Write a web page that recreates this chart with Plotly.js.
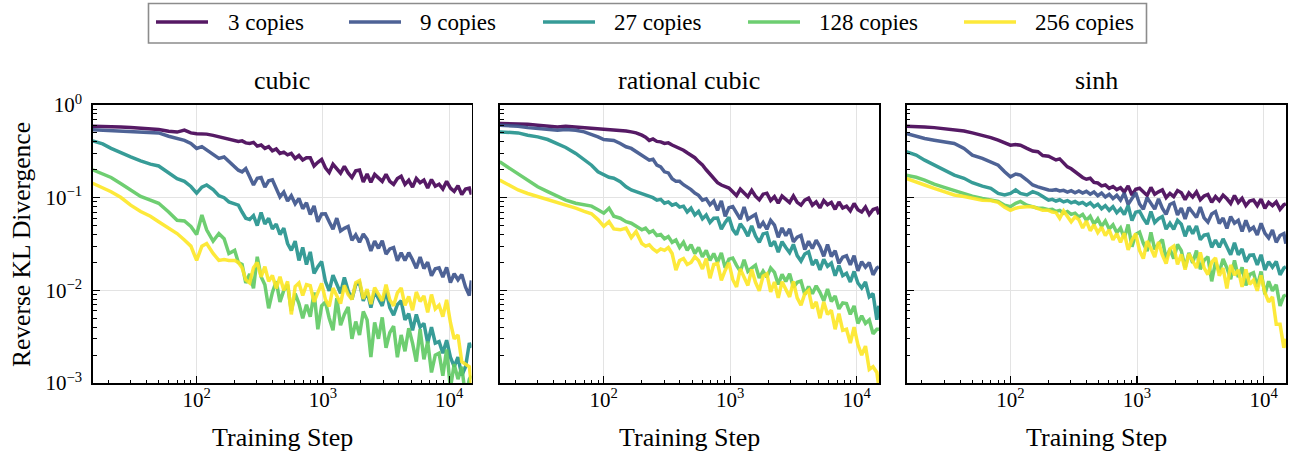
<!DOCTYPE html>
<html>
<head>
<meta charset="utf-8">
<script src="https://cdn.plot.ly/plotly-3.0.1.min.js"></script>
<style>html,body{margin:0;padding:0;background:#fff;}#chart{width:1289px;height:451px;}</style>
</head>
<body>
<div id="chart"></div>
<script>
// Training steps (shared by every series)
const steps = [15,18,21,25,30,36,43,50,60,70,80,90,100,110,120,135,150,165,180,
200,214,229,245,263,282,302,324,347,372,
398,427,457,490,525,562,603,646,692,741,
794,851,912,977,1047,1122,1202,1288,1380,1479,
1585,1698,1820,1950,2089,2239,2399,2570,2754,2951,
3162,3388,3631,3890,4169,4467,4786,5129,5495,5888,
6310,6761,7244,7762,8318,8913,9550,10233,10965,11749,
12589,13490,14454,15000];

const seriesNames = ['3 copies','9 copies','27 copies','128 copies','256 copies'];
const seriesColors = ['#440154','#3b528b','#21918c','#5ec962','#fde725'];
const panelTitles = ['cubic','rational cubic','sinh'];
const yTickVals = [0.001, 0.01, 0.1, 1];
const yTickText = ['10<sup>\u22123</sup>','10<sup>\u22122</sup>','10<sup>\u22121</sup>','10<sup>0</sup>'];
const xTickVals = [100, 1000, 10000];
const xTickText = ['10<sup>2</sup>','10<sup>3</sup>','10<sup>4</sup>'];

// ---- cubic ----
const cubic_3 = [0.59,0.59,0.59,0.58,0.57,0.56,0.55,0.545,0.52,0.51,0.535,0.50,0.49,0.49,0.485,0.47,0.455,0.44,0.435,
0.42,0.405,0.41,0.39,0.385,0.395,0.36,0.37,0.34,0.355,
0.32,0.335,0.3,0.31,0.29,0.3,0.265,0.285,0.255,0.27,
0.27,0.22,0.241,0.258,0.21,0.187,0.229,0.208,0.184,0.218,
0.185,0.165,0.195,0.199,0.148,0.18,0.147,0.178,0.162,0.15,
0.179,0.15,0.139,0.161,0.17,0.139,0.154,0.13,0.161,0.145,
0.155,0.127,0.157,0.133,0.14,0.124,0.15,0.127,0.117,0.135,
0.108,0.124,0.127,0.108];
const cubic_9 = [0.54,0.535,0.53,0.525,0.52,0.515,0.505,0.50,0.46,0.435,0.415,0.385,0.34,0.355,0.325,0.29,0.265,0.275,0.245,
0.216,0.198,0.19,0.206,0.168,0.137,0.162,0.165,0.13,0.152,
0.156,0.122,0.102,0.115,0.092,0.105,0.086,0.098,0.076,0.088,
0.0657,0.0814,0.0549,0.0666,0.067,0.055,0.0457,0.0601,0.0437,0.0467,
0.0489,0.0347,0.0397,0.0331,0.0406,0.0355,0.0266,0.034,0.0284,0.0342,
0.0246,0.028,0.029,0.0208,0.0254,0.021,0.0255,0.0214,0.0173,0.0228,
0.0172,0.0201,0.0144,0.0171,0.0175,0.0139,0.0177,0.0121,0.0151,0.013,
0.0148,0.0108,0.0088,0.0128];
const cubic_27 = [0.41,0.38,0.34,0.305,0.275,0.25,0.23,0.22,0.185,0.16,0.15,0.132,0.112,0.13,0.137,0.122,0.105,0.1,0.09,
0.085,0.083,0.07,0.06,0.058,0.064,0.05,0.069,0.052,0.06,
0.046,0.052,0.04,0.047,0.032,0.027,0.034,0.021,0.029,0.019,
0.026,0.0152,0.018,0.0204,0.0125,0.0099,0.0146,0.0118,0.0093,0.0138,
0.0099,0.008,0.0115,0.0121,0.0077,0.0098,0.0065,0.0098,0.008,0.0068,
0.0099,0.0065,0.0054,0.007,0.0077,0.0048,0.0056,0.0037,0.0055,0.004,
0.0044,0.0027,0.004,0.0027,0.0028,0.0021,0.0029,0.0019,0.0015,0.0019,
0.0012,0.0015,0.0027,0.0024];
const cubic_128 = [0.2,0.182,0.165,0.142,0.12,0.103,0.094,0.087,0.07,0.057,0.056,0.049,0.04,0.065,0.045,0.034,0.041,0.036,0.025,
0.027,0.02,0.019,0.012,0.015,0.0105,0.023,0.014,0.0115,0.0064,
0.0095,0.0125,0.0075,0.01,0.0115,0.006,0.0092,0.0072,0.005,0.007,
0.0052,0.0095,0.0038,0.0068,0.0075,0.005,0.0037,0.0082,0.0042,0.0055,
0.0066,0.003,0.0046,0.0033,0.0059,0.0048,0.0019,0.0045,0.003,0.0051,
0.0024,0.0035,0.0041,0.0019,0.0033,0.0022,0.0039,0.0027,0.0017,0.0038,
0.0018,0.0028,0.0013,0.002,0.0021,0.0012,0.0023,0.00088,0.0016,0.0011,
0.0015,0.0007,0.0011,0.0012];
const cubic_256 = [0.143,0.129,0.116,0.101,0.083,0.071,0.063,0.055,0.047,0.041,0.035,0.03,0.021,0.03,0.032,0.025,0.021,0.0215,0.021,
0.021,0.02,0.0175,0.013,0.012,0.0175,0.02,0.014,0.018,0.0125,
0.0145,0.0105,0.014,0.01,0.0125,0.0055,0.011,0.012,0.0088,0.0115,
0.0112,0.0075,0.0096,0.0119,0.008,0.0067,0.0106,0.0088,0.0072,0.0113,
0.009,0.008,0.0121,0.0127,0.0081,0.0103,0.0071,0.0107,0.0089,0.0077,
0.0115,0.0079,0.0068,0.0094,0.0106,0.0069,0.0086,0.0061,0.0096,0.0076,
0.0087,0.0058,0.009,0.0063,0.0069,0.0052,0.0079,0.0045,0.003,0.0033,
0.0017,0.0016,0.0015,0.00096];

// ---- rational cubic ----
const ratcubic_3 = [0.63,0.63,0.63,0.62,0.605,0.59,0.58,0.59,0.58,0.57,0.56,0.552,0.547,0.552,0.543,0.534,0.525,0.513,0.50,
0.472,0.45,0.415,0.43,0.405,0.40,0.385,0.39,0.37,0.355,
0.34,0.325,0.305,0.29,0.27,0.245,0.225,0.2,0.178,0.16,
0.145,0.137,0.131,0.127,0.1156,0.105,0.1236,0.1133,0.1026,0.1198,
0.1036,0.0947,0.1091,0.1118,0.0932,0.1025,0.0873,0.104,0.095,0.0887,
0.1043,0.0889,0.083,0.0942,0.0987,0.083,0.09,0.0775,0.0932,0.0841,
0.089,0.0749,0.0899,0.0774,0.081,0.072,0.0864,0.0743,0.07,0.0793,
0.0658,0.0745,0.077,0.0661];
const ratcubic_9 = [0.605,0.6,0.59,0.57,0.56,0.545,0.535,0.543,0.534,0.513,0.484,0.453,0.424,0.417,0.415,0.384,0.354,0.34,0.313,
0.288,0.27,0.254,0.26,0.224,0.215,0.19,0.185,0.16,0.15,
0.15,0.138,0.13,0.122,0.112,0.106,0.094,0.097,0.084,0.092,
0.073,0.092,0.063,0.078,0.08,0.0675,0.0587,0.0793,0.0585,0.0623,
0.066,0.0474,0.054,0.0456,0.0568,0.0506,0.0374,0.0471,0.0388,0.046,
0.0334,0.0374,0.0391,0.0275,0.0338,0.0283,0.0348,0.0296,0.0233,0.0313,
0.0232,0.0268,0.0195,0.0228,0.0236,0.0188,0.0236,0.0162,0.0204,0.0178,
0.0199,0.0147,0.0174,0.0179];
const ratcubic_27 = [0.513,0.508,0.5,0.472,0.453,0.424,0.384,0.348,0.3,0.254,0.224,0.19,0.175,0.166,0.162,0.149,0.131,0.121,0.116,
0.111,0.108,0.103,0.1,0.094,0.096,0.087,0.09,0.083,0.086,
0.079,0.081,0.07,0.077,0.065,0.071,0.059,0.065,0.054,0.06,
0.0603,0.0457,0.054,0.0613,0.0455,0.0399,0.0523,0.0459,0.0385,0.0496,
0.0386,0.033,0.0406,0.0417,0.0299,0.0338,0.0258,0.0335,0.029,0.0255,
0.0313,0.0237,0.0207,0.0247,0.026,0.0188,0.0213,0.0166,0.0216,0.0182,
0.0197,0.0144,0.0185,0.0144,0.0153,0.0123,0.016,0.012,0.0106,0.0123,
0.0085,0.0092,0.0048,0.0068];
const ratcubic_128 = [0.244,0.206,0.183,0.155,0.131,0.116,0.103,0.094,0.087,0.083,0.081,0.074,0.068,0.077,0.063,0.06,0.055,0.053,0.049,
0.045,0.047,0.042,0.044,0.039,0.04,0.036,0.038,0.033,0.035,
0.029,0.033,0.027,0.031,0.025,0.029,0.023,0.027,0.021,0.025,
0.0201,0.0254,0.0175,0.0217,0.0223,0.0186,0.016,0.0214,0.016,0.0174,
0.0187,0.0136,0.0161,0.0139,0.0174,0.0156,0.0116,0.0149,0.0125,0.0151,
0.0108,0.0122,0.0126,0.009,0.011,0.0092,0.0112,0.0095,0.0077,0.0103,
0.0076,0.0087,0.0063,0.0073,0.0072,0.0055,0.0068,0.0044,0.0053,0.0044,
0.0048,0.0034,0.0038,0.0038];
const ratcubic_256 = [0.155,0.137,0.121,0.111,0.103,0.094,0.087,0.083,0.077,0.071,0.067,0.058,0.049,0.055,0.046,0.045,0.047,0.037,0.043,
0.032,0.03,0.031,0.028,0.026,0.028,0.027,0.029,0.025,0.0165,
0.021,0.022,0.019,0.02,0.023,0.021,0.017,0.022,0.0135,0.019,
0.0195,0.0128,0.0164,0.0198,0.0131,0.0109,0.017,0.0141,0.0113,0.0168,
0.0122,0.0099,0.0142,0.0151,0.0096,0.0123,0.0083,0.0124,0.0101,0.0085,
0.0125,0.0083,0.0069,0.0092,0.01,0.0064,0.0075,0.005,0.0075,0.0055,
0.0061,0.0038,0.0056,0.0037,0.0038,0.0027,0.004,0.0026,0.002,0.0025,
0.0014,0.0015,0.0013,0.0009];

// ---- sinh ----
const sinh_3 = [0.59,0.59,0.58,0.57,0.557,0.543,0.525,0.50,0.472,0.445,0.417,0.39,0.368,0.374,0.368,0.34,0.318,0.313,0.285,
0.28,0.27,0.255,0.262,0.235,0.215,0.205,0.19,0.18,0.165,
0.158,0.162,0.146,0.144,0.134,0.137,0.126,0.132,0.122,0.128,
0.1152,0.1342,0.1069,0.1232,0.1265,0.1143,0.1058,0.129,0.1089,0.1156,
0.1214,0.1001,0.1113,0.1026,0.1195,0.1131,0.0953,0.1123,0.1014,0.1153,
0.0951,0.1043,0.1083,0.0891,0.1025,0.0925,0.1063,0.0972,0.0866,0.1055,
0.0888,0.0986,0.0821,0.0921,0.0943,0.0821,0.0965,0.0766,0.089,0.0821,
0.09,0.0748,0.0838,0.0858];
const sinh_9 = [0.492,0.46,0.435,0.417,0.4,0.384,0.34,0.288,0.265,0.244,0.224,0.19,0.168,0.18,0.175,0.155,0.137,0.131,0.126,
0.121,0.12,0.122,0.118,0.12,0.115,0.119,0.113,0.118,0.112,
0.117,0.109,0.115,0.105,0.112,0.102,0.109,0.098,0.106,0.094,
0.1117,0.0846,0.0996,0.113,0.0855,0.0749,0.1001,0.0876,0.0752,0.0968,
0.0771,0.0661,0.0844,0.0881,0.065,0.0772,0.0591,0.0782,0.068,0.0611,
0.0793,0.0605,0.0544,0.0667,0.0708,0.0528,0.0602,0.0466,0.0626,0.053,
0.057,0.0432,0.0568,0.0446,0.0479,0.0396,0.0529,0.0415,0.0367,0.0447,
0.033,0.0391,0.041,0.0319];
const sinh_27 = [0.313,0.288,0.254,0.224,0.198,0.175,0.162,0.145,0.133,0.126,0.111,0.107,0.111,0.121,0.111,0.107,0.116,0.111,0.103,
0.094,0.096,0.092,0.095,0.09,0.093,0.088,0.091,0.086,0.089,
0.083,0.088,0.08,0.085,0.076,0.082,0.073,0.08,0.069,0.076,
0.0657,0.0826,0.0566,0.0698,0.0715,0.0598,0.0518,0.0709,0.0539,0.0592,
0.0626,0.0457,0.053,0.0456,0.0568,0.0516,0.0383,0.0493,0.0407,0.0496,
0.0352,0.0394,0.0402,0.0291,0.0349,0.0292,0.0359,0.0296,0.0242,0.0325,
0.0242,0.0279,0.0203,0.0239,0.0241,0.0188,0.0242,0.0166,0.0204,0.0178,
0.0205,0.0147,0.0174,0.0179];
const sinh_128 = [0.175,0.166,0.155,0.14,0.129,0.119,0.11,0.104,0.098,0.094,0.091,0.083,0.08,0.087,0.091,0.083,0.08,0.077,0.077,
0.074,0.075,0.071,0.073,0.068,0.071,0.066,0.068,0.062,0.066,
0.057,0.063,0.052,0.059,0.049,0.056,0.046,0.051,0.042,0.047,
0.0366,0.0513,0.0296,0.0402,0.0425,0.0322,0.0265,0.0422,0.0277,0.0317,
0.0352,0.0218,0.0278,0.022,0.0312,0.0268,0.0175,0.0253,0.0198,0.0269,
0.0169,0.0211,0.023,0.0125,0.0201,0.0157,0.0218,0.0175,0.0132,0.0211,
0.0139,0.0177,0.0113,0.0148,0.0155,0.011,0.016,0.0091,0.0125,0.0099,
0.0115,0.0068,0.0087,0.0089];
const sinh_256 = [0.161,0.149,0.137,0.126,0.116,0.107,0.103,0.098,0.094,0.093,0.089,0.079,0.073,0.077,0.079,0.08,0.08,0.076,0.073,
0.073,0.07,0.069,0.06,0.072,0.062,0.055,0.062,0.058,0.047,
0.056,0.044,0.051,0.042,0.048,0.039,0.045,0.035,0.041,0.033,
0.0413,0.0273,0.0349,0.0409,0.0269,0.022,0.034,0.0283,0.0229,0.0333,
0.0241,0.0195,0.0281,0.0299,0.019,0.0244,0.0167,0.0248,0.0205,0.0174,
0.0257,0.0175,0.0148,0.0201,0.0224,0.0144,0.0174,0.0105,0.0188,0.0146,
0.0166,0.0109,0.0168,0.0116,0.0129,0.0099,0.0145,0.0095,0.0075,0.0085,
0.0043,0.0043,0.0024,0.003];

const panelData = [
  [cubic_3, cubic_9, cubic_27, cubic_128, cubic_256],
  [ratcubic_3, ratcubic_9, ratcubic_27, ratcubic_128, ratcubic_256],
  [sinh_3, sinh_9, sinh_27, sinh_128, sinh_256]
];

const W = 1289, H = 451;
const xDomains = [[93/W, 471.5/W], [500/W, 879/W], [906.5/W, 1286/W]];
const yDomain = [(H-383)/H, (H-105)/H];
const serif = '"Liberation Serif", "Times New Roman", serif';

// legend layout (pixel positions of the hand-drawn legend box)
const legendBox = {x0: 148.5, x1: 1146.5, y0: 3.5, y1: 43};
const legendLineX = [156, 349, 543, 748, 964];
const legendTextX = [226, 418, 612, 817, 1033];
const legendLineLen = 52;
const legendMidY = 22;

// minor tick positions 2..9 in each decade (axis decoration only)
function minorTicks(d0, d1) {
  const v = [];
  for (let d = d0; d <= d1; d++) for (let m = 2; m <= 9; m++) v.push(m * Math.pow(10, d));
  return v;
}
const xMinor = minorTicks(1, 4);
const yMinor = minorTicks(-3, -1);

const traces = [];
panelData.forEach((series, p) => {
  series.forEach((vals, s) => {
    traces.push({
      type: 'scatter', mode: 'lines',
      x: steps, y: vals,
      name: seriesNames[s],
      showlegend: false,
      xaxis: p === 0 ? 'x' : 'x' + (p + 1),
      yaxis: p === 0 ? 'y' : 'y' + (p + 1),
      line: {color: seriesColors[s], width: 3.5},
      opacity: 0.9,
      hoverinfo: 'skip'
    });
  });
});

function xAxis(p) {
  return {
    type: 'log', domain: xDomains[p], range: [1.179, 4.177],
    anchor: p === 0 ? 'y' : 'y' + (p + 1),
    tickmode: 'array', tickvals: xTickVals, ticktext: xTickText,
    ticks: 'inside', ticklen: 7, tickwidth: 1.3, tickcolor: '#000',
    minor: {tickmode: 'array', tickvals: xMinor, ticks: 'inside', ticklen: 3.5, tickwidth: 1, tickcolor: '#000', showgrid: false},
    showline: true, mirror: true, linecolor: '#000', linewidth: 1.6,
    showgrid: true, gridcolor: '#e3e3e3', gridwidth: 1,
    tickfont: {family: serif, size: 21, color: '#000'},
    ticklabelstandoff: -3,
    zeroline: false, automargin: false, fixedrange: true
  };
}
function yAxis(p) {
  return {
    type: 'log', domain: yDomain, range: [-3, 0],
    anchor: p === 0 ? 'x' : 'x' + (p + 1),
    tickmode: 'array', tickvals: yTickVals, ticktext: yTickText,
    showticklabels: p === 0,
    ticks: 'inside', ticklen: 7, tickwidth: 1.3, tickcolor: '#000',
    minor: {tickmode: 'array', tickvals: yMinor, ticks: 'inside', ticklen: 3.5, tickwidth: 1, tickcolor: '#000', showgrid: false},
    showline: true, mirror: true, linecolor: '#000', linewidth: 1.6,
    showgrid: true, gridcolor: '#e3e3e3', gridwidth: 1,
    tickfont: {family: serif, size: 21, color: '#000'},
    ticklabelstandoff: 5,
    zeroline: false, automargin: false, fixedrange: true
  };
}

const annotations = [];
const shapes = [];
panelTitles.forEach((t, p) => {
  const xc = (xDomains[p][0] + xDomains[p][1]) / 2;
  annotations.push({text: t, xref: 'paper', yref: 'paper', x: xc, y: (H-80)/H,
    xanchor: 'center', yanchor: 'middle', showarrow: false,
    font: {family: serif, size: 26, color: '#000'}});
  annotations.push({text: 'Training Step', xref: 'paper', yref: 'paper', x: xc, y: (H-437)/H,
    xanchor: 'center', yanchor: 'middle', showarrow: false,
    font: {family: serif, size: 26, color: '#000'}});
});
annotations.push({text: 'Reverse KL Divergence', xref: 'paper', yref: 'paper', x: 21/W, y: (H-245)/H,
  xanchor: 'center', yanchor: 'middle', textangle: -90, showarrow: false,
  font: {family: serif, size: 25.5, color: '#000'}});

// legend: frame, line samples and labels
shapes.push({type: 'rect', xref: 'paper', yref: 'paper',
  x0: legendBox.x0/W, x1: legendBox.x1/W, y0: (H-legendBox.y1)/H, y1: (H-legendBox.y0)/H,
  line: {color: '#8c8c8c', width: 1.6}, fillcolor: 'rgba(255,255,255,0.9)'});
seriesNames.forEach((name, s) => {
  shapes.push({type: 'line', xref: 'paper', yref: 'paper',
    x0: legendLineX[s]/W, x1: (legendLineX[s] + legendLineLen)/W,
    y0: (H-legendMidY)/H, y1: (H-legendMidY)/H,
    line: {color: seriesColors[s], width: 3.5}, opacity: 0.9});
  annotations.push({text: name, xref: 'paper', yref: 'paper', x: legendTextX[s]/W, y: (H-legendMidY)/H,
    xanchor: 'left', yanchor: 'middle', showarrow: false,
    font: {family: serif, size: 23, color: '#000'}});
});

const layout = {
  width: W, height: H, autosize: false,
  margin: {l: 0, r: 0, t: 0, b: 0, pad: 0},
  paper_bgcolor: '#fff', plot_bgcolor: '#fff',
  font: {family: serif, color: '#000'},
  showlegend: false,
  xaxis: xAxis(0), yaxis: yAxis(0),
  xaxis2: xAxis(1), yaxis2: yAxis(1),
  xaxis3: xAxis(2), yaxis3: yAxis(2),
  annotations: annotations,
  shapes: shapes
};

Plotly.newPlot('chart', traces, layout, {displayModeBar: false, staticPlot: true});
</script>
</body>
</html>
